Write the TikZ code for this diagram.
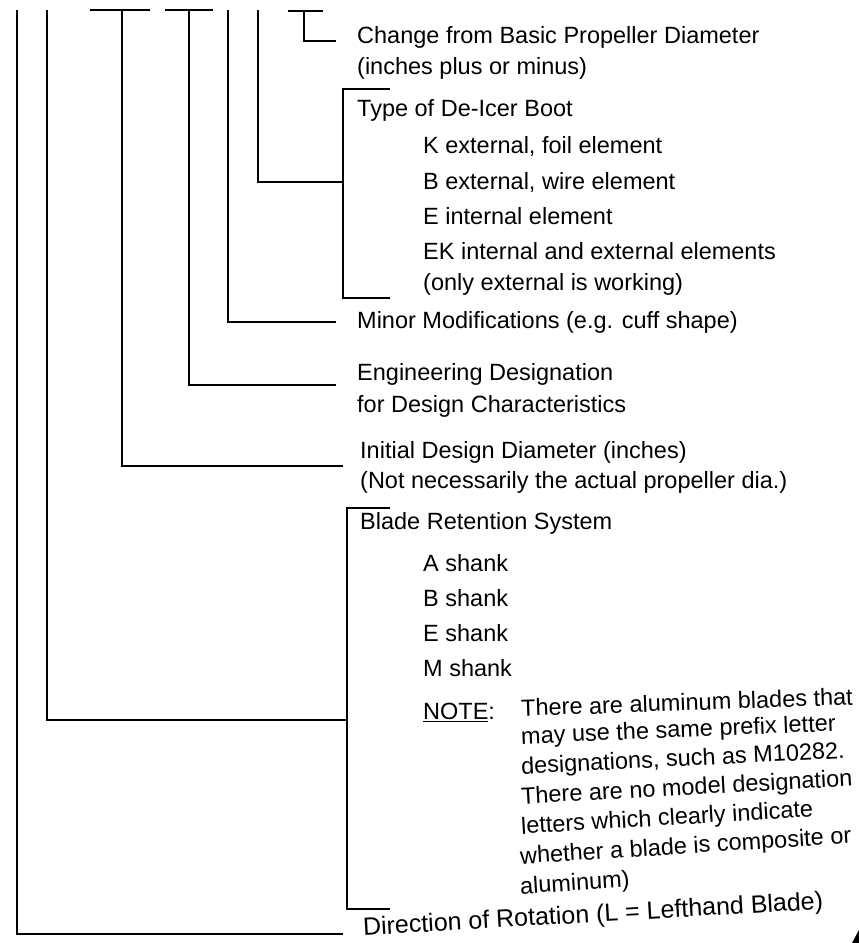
\documentclass[tikz,border=0pt]{standalone}
\usepackage{fontspec}
\setmainfont{Liberation Sans}
\begin{document}
\begin{tikzpicture}[x=1pt,y=-1pt,
  conn/.style={line width=1.9pt, line cap=butt, line join=miter},
  lbl/.style={anchor=west, inner sep=0pt, font=\fontsize{23.5}{28}\selectfont},
  note/.style={anchor=west, inner sep=0pt, font=\fontsize{23.5}{28}\selectfont}]
\useasboundingbox (0,0) rectangle (859,943);

% --- tops of the lines
\coordinate (t1) at (17,10);
\coordinate (t2) at (47,10);
\coordinate (t3) at (122,10);
\coordinate (t4) at (189,10);
\coordinate (t5) at (228,10);
\coordinate (t6) at (258,10);
\coordinate (t7) at (304,11);
% T-bars
\coordinate (b3l) at (90,10);  \coordinate (b3r) at (150,10);
\coordinate (b4l) at (165,10); \coordinate (b4r) at (213,10);
\coordinate (b7l) at (288,11); \coordinate (b7r) at (323,11);

% --- ends
\coordinate (e7) at (336,41);
\coordinate (e6) at (343,182);
\coordinate (e5) at (336,322);
\coordinate (e4) at (336,385);
\coordinate (e3) at (343,466);
\coordinate (e2) at (347,720);
\coordinate (e1) at (343,934);

% brackets
\coordinate (dTopR) at (390,89);  \coordinate (dTop) at (343,89);
\coordinate (dBot) at (343,298);  \coordinate (dBotR) at (390,298);
\coordinate (bTopR) at (390,508); \coordinate (bTop) at (347,508);
\coordinate (bBot) at (347,909);  \coordinate (bBotR) at (390,909);

% --- texts
\node[lbl] (chg) at (357,37) {Change from Basic Propeller Diameter};
\node[lbl] (chg2) at (357,68) {(inches plus or minus)};
\node[lbl] (ice) at (357,110) {Type of De-Icer Boot};
\node[lbl] (iK) at (423,146) {K external, foil element};
\node[lbl] (iB) at (423,182) {B external, wire element};
\node[lbl] (iE) at (423,216) {E internal element};
\node[lbl] (iEK) at (423,251) {EK internal and external elements};
\node[lbl] (iEK2) at (423,284) {(only external is working)};
\node[lbl] (minor) at (357,322) {Minor Modifications (e.g. cuff shape)};
\node[lbl] (eng) at (357,374) {Engineering Designation};
\node[lbl] (eng2) at (357,406) {for Design Characteristics};
\node[lbl] (init) at (360,452) {Initial Design Diameter (inches)};
\node[lbl] (init2) at (360,482) {(Not necessarily the actual propeller dia.)};
\node[lbl] (blade) at (360,523) {Blade Retention System};
\node[lbl] (sA) at (423,563) {A shank};
\node[lbl] (sB) at (423,598) {B shank};
\node[lbl] (sE) at (423,633) {E shank};
\node[lbl] (sM) at (423,668) {M shank};
\node[lbl] (nt) at (423,712) {\underline{NOTE}:};
\node[note, rotate=2.0] (n1) at (521,708) {There are aluminum blades that};
\node[note, rotate=2.4] (n2) at (521,738) {may use the same prefix letter};
\node[note, rotate=2.8] (n3) at (521,768) {designations, such as M10282.};
\node[note, rotate=3.1] (n4) at (521,798) {There are no model designation};
\node[note, rotate=3.4] (n5) at (521,828) {letters which clearly indicate};
\node[note, rotate=3.6] (n6) at (520,858) {whether a blade is composite or};
\node[note, rotate=3.6] (n7) at (520,888) {aluminum)};
\node[anchor=west, inner sep=0pt, rotate=3.3, font=\fontsize{25}{30}\selectfont] (dir) at (363,929) {Direction of Rotation (L = Lefthand Blade)};

% --- connectors
\draw[conn] (b3l) -- (b3r);
\draw[conn] (b4l) -- (b4r);
\draw[conn] (b7l) -- (b7r);
\draw[conn] (t1) |- (e1);
\draw[conn] (t2) |- (e2);
\draw[conn] (t3) |- (e3);
\draw[conn] (t4) |- (e4);
\draw[conn] (t5) |- (e5);
\draw[conn] (t6) |- (e6);
\draw[conn] (t7) |- (e7);
\draw[conn] (dTopR) -- (dTop) -- (dBot) -- (dBotR);
\draw[conn] (bTopR) -- (bTop) -- (bBot) -- (bBotR);

% scan mark in the corner
\fill (852,943) -- (859,930) -- (859,943) -- cycle;
\end{tikzpicture}
\end{document}
